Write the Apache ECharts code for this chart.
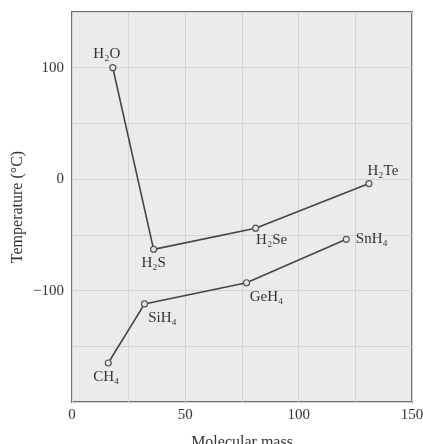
<!DOCTYPE html>
<html>
<head>
<meta charset="utf-8">
<script src="https://cdn.jsdelivr.net/npm/echarts@6/dist/echarts.min.js"></script>
<style>
  html, body { margin: 0; padding: 0; background: #fff; }
  #chart { width: 423px; height: 444px; }
</style>
</head>
<body>
<div id="chart"></div>
<script>
// group 16 hydrides
var group16Names = ["H₂O", "H₂S", "H₂Se", "H₂Te"];
var group16Mass = [18, 36, 81, 131];
var group16Temp = [100, -63, -44, -4];
// group 14 hydrides
var group14Names = ["CH₄", "SiH₄", "GeH₄", "SnH₄"];
var group14Mass = [16, 32, 77, 121];
var group14Temp = [-165, -112, -93, -54];

// where each label sits relative to its point
var group16LabelPos = [["top", [-6, 0]], ["bottom", [0, 0]], ["bottom", [16, -2]], ["top", [14, 2]]];
var group14LabelPos = [["bottom", [-2, 0]], ["bottom", [18, 0]], ["bottom", [20, 0]], ["right", [3, 0]]];

var serif = "Liberation Serif, DejaVu Serif, serif";

function buildData(names, xs, ys, pos) {
  var out = [];
  names.forEach(function (n, i) {
    out.push({
      value: [xs[i], ys[i]],
      name: n,
      label: { position: pos[i][0], offset: pos[i][1] }
    });
  });
  return out;
}

var seriesStyle = {
  type: "line",
  symbol: "circle",
  symbolSize: 6,
  lineStyle: { color: "#454545", width: 1.6 },
  itemStyle: { color: "#e6e6e6", borderColor: "#555", borderWidth: 1.2 },
  label: {
    show: true,
    formatter: "{b}",
    fontFamily: serif,
    fontSize: 15,
    color: "#333",
    distance: 3
  },
  animation: false
};

var chart = echarts.init(document.getElementById("chart"));
var option = {
  backgroundColor: "#fff",
  grid: {
    left: 72, right: 11, top: 12, bottom: 42,
    outerBoundsMode: "none",
    containLabel: false,
    show: true,
    backgroundColor: "#ebebeb",
    borderColor: "#6e6e6e",
    borderWidth: 2
  },
  xAxis: {
    type: "value",
    min: 0, max: 150, interval: 25,
    name: "Molecular mass",
    nameLocation: "middle",
    nameGap: 33,
    nameMoveOverlap: false,
    nameTextStyle: { fontFamily: serif, fontSize: 16, color: "#333" },
    axisLine: { show: false },
    axisTick: { show: false },
    axisLabel: {
      fontFamily: serif, fontSize: 15, color: "#333", margin: 6,
      formatter: function (v) { return v % 50 === 0 ? String(v) : ""; }
    },
    splitLine: { show: true, lineStyle: { color: "#d4d4d4", width: 1 } }
  },
  yAxis: {
    type: "value",
    min: -200, max: 150, interval: 50,
    name: "Temperature (°C)",
    nameLocation: "middle",
    nameGap: 46,
    nameMoveOverlap: false,
    nameTextStyle: { fontFamily: serif, fontSize: 16, color: "#333" },
    axisLine: { show: false },
    axisTick: { show: false },
    axisLabel: {
      fontFamily: serif, fontSize: 15, color: "#333", margin: 8,
      formatter: function (v) {
        return (v % 100 === 0 && v !== -200) ? (v < 0 ? "−" + (-v) : String(v)) : "";
      }
    },
    splitLine: { show: true, lineStyle: { color: "#d4d4d4", width: 1 } }
  },
  series: [
    Object.assign({}, seriesStyle, { data: buildData(group16Names, group16Mass, group16Temp, group16LabelPos) }),
    Object.assign({}, seriesStyle, { data: buildData(group14Names, group14Mass, group14Temp, group14LabelPos) })
  ]
};
chart.setOption(option);
</script>
</body>
</html>
